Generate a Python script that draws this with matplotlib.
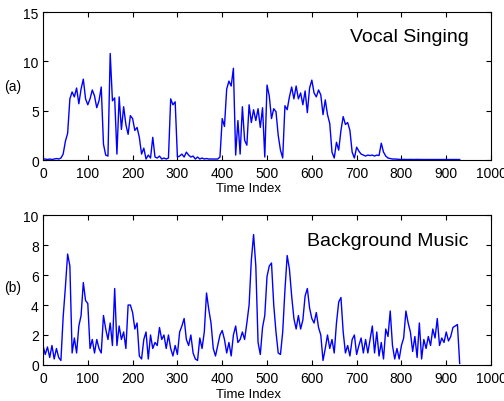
import numpy as np
import matplotlib
matplotlib.use('Agg')
import matplotlib.pyplot as plt

plt.rcParams['font.family'] = ['Liberation Sans', 'DejaVu Sans']

# energy per frame, one value every 5 time index steps
vocal = [
    0.1, 0.1, 0.05, 0.1, 0.05, 0.1, 0.15, 0.1, 0.2, 0.6,
    1.9, 2.7, 6.2, 6.9, 6.4, 7.3, 5.7, 7.2, 8.2, 6.2,
    5.6, 6.2, 7.1, 6.5, 5.3, 6.0, 7.4, 1.6, 0.5, 0.4,
    10.8, 6.0, 6.3, 0.6, 6.4, 3.1, 5.4, 3.6, 2.6, 4.5,
    4.2, 3.0, 3.3, 2.3, 0.6, 1.2, 0.1, 0.5, 0.2, 2.3,
    0.3, 0.2, 0.4, 0.1, 0.2, 0.1, 0.2, 6.2, 5.6, 5.9,
    0.3, 0.4, 0.6, 0.3, 0.8, 0.5, 0.3, 0.4, 0.1, 0.3,
    0.1, 0.2, 0.1, 0.15, 0.1, 0.1, 0.1, 0.1, 0.1, 0.3,
    4.2, 3.4, 7.2, 8.0, 7.5, 9.3, 0.5, 4.0, 0.6, 5.4,
    2.0, 1.5, 5.6, 3.8, 5.1, 4.0, 5.2, 3.3, 5.3, 0.3,
    7.6, 6.5, 4.2, 5.2, 4.9, 2.5, 1.0, 0.2, 5.5, 5.1,
    6.4, 7.4, 6.2, 7.5, 6.2, 6.8, 5.6, 7.0, 4.8, 7.3,
    8.1, 6.8, 6.4, 7.1, 6.6, 4.6, 6.1, 4.6, 3.7, 0.8,
    0.2, 1.8, 1.0, 3.0, 4.4, 3.6, 3.8, 3.0, 0.8, 0.2,
    1.3, 0.9, 0.6, 0.5, 0.4, 0.5, 0.45, 0.5, 0.4, 0.5,
    0.45, 1.7, 0.8, 0.4, 0.2, 0.15, 0.1, 0.1, 0.08, 0.06,
    0.05, 0.06, 0.05, 0.05, 0.06, 0.05, 0.05, 0.06, 0.05, 0.05,
    0.05, 0.05, 0.06, 0.05, 0.05, 0.05, 0.06, 0.05, 0.05, 0.05,
    0.05, 0.06, 0.05, 0.05, 0.05, 0.06, 0.05,
]

music = [
    1.3, 0.7, 1.2, 0.5, 1.3, 0.4, 1.1, 0.5, 0.3, 3.2,
    5.2, 7.4, 6.6, 0.8, 1.8, 0.8, 2.6, 3.3, 5.5, 4.3,
    4.1, 1.1, 1.7, 0.8, 1.7, 1.1, 0.8, 3.3, 2.4, 1.7,
    2.8, 1.3, 5.1, 1.3, 2.6, 1.7, 2.2, 1.1, 4.0, 4.0,
    3.5, 2.4, 2.8, 0.6, 0.4, 1.7, 2.2, 0.4, 2.0, 1.1,
    1.5, 1.3, 2.5, 1.7, 2.0, 1.1, 2.0, 1.1, 0.6, 1.3,
    0.7, 2.2, 2.6, 3.1, 1.7, 1.3, 2.0, 0.8, 0.4, 0.3,
    1.8, 1.1, 2.2, 4.8, 3.7, 2.8, 1.1, 0.6, 1.3, 2.0,
    2.3, 1.7, 0.8, 1.5, 0.6, 2.0, 2.6, 1.5, 1.7, 2.2,
    1.7, 2.8, 4.0, 7.0, 8.7, 6.6, 1.5, 0.7, 2.5, 3.3,
    5.9, 6.6, 6.8, 4.0, 2.2, 0.8, 0.7, 2.2, 5.0, 7.3,
    6.4, 4.6, 3.1, 2.4, 3.3, 2.4, 3.0, 4.6, 5.1, 3.8,
    3.1, 2.8, 3.5, 2.5, 2.0, 0.3, 1.1, 2.0, 1.1, 1.7,
    0.8, 2.8, 4.2, 4.5, 2.2, 0.8, 1.3, 0.6, 1.7, 2.0,
    0.7, 1.3, 1.8, 0.8, 1.7, 0.8, 1.7, 2.6, 0.8, 2.2,
    0.6, 1.5, 0.4, 2.4, 1.9, 3.6, 1.3, 0.4, 1.1, 0.4,
    1.3, 1.8, 3.6, 2.8, 2.2, 0.9, 1.9, 0.5, 2.8, 0.4,
    1.7, 1.1, 1.9, 1.3, 2.4, 1.8, 3.1, 1.3, 1.8, 1.5,
    2.2, 1.6, 1.9, 2.5, 2.6, 2.7, 0.1,
]

panels = [
    ('(a)', 'Vocal Singing', vocal, 15, [0, 5, 10, 15]),
    ('(b)', 'Background Music', music, 10, [0, 2, 4, 6, 8, 10]),
]
xticks = list(range(0, 1001, 100))

fig = plt.figure(figsize=(5.04, 4.02), dpi=100)
boxes = [[0.0853, 0.5995, 0.889, 0.368], [0.0853, 0.0896, 0.889, 0.373]]
label_y = [1 - 87 / 402, 1 - 288 / 402]
xlab_y = [1 - 189 / 402, 1 - 395 / 402]
title_y = [0.838, 0.833]

for i, (tag, name, series, ymax, yticks) in enumerate(panels):
    ax = fig.add_axes(boxes[i])
    t = np.arange(len(series)) * 5
    ax.plot(t, series, color='#0000ff', lw=1.0)
    ax.set_xlim(0, 1000)
    ax.set_ylim(0, ymax)
    ax.set_xticks(xticks)
    ax.set_yticks(yticks)
    ax.tick_params(direction='in', top=True, right=True, length=3.5,
                   width=0.8, labelsize=10)
    ax.tick_params(axis='x', pad=4)
    ax.tick_params(axis='y', pad=3)
    for s in ax.spines.values():
        s.set_linewidth(0.8)
    ax.text(0.95, title_y[i], name, transform=ax.transAxes,
            ha='right', va='center', fontsize=14)
    fig.text(13 / 504, label_y[i], tag, ha='center', va='center', fontsize=10)
    fig.text(249 / 504, xlab_y[i], 'Time Index', ha='center', va='center',
             fontsize=9.5)

fig.savefig('out.png', dpi=100)
